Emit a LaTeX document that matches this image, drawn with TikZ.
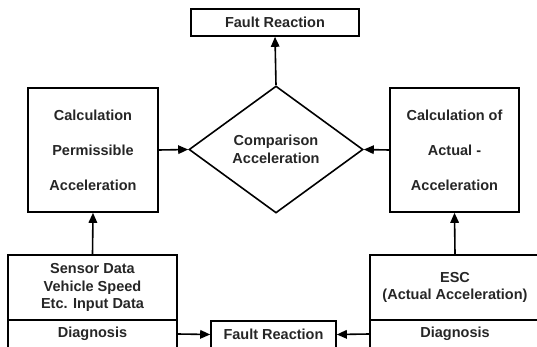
\documentclass[tikz,border=0pt]{standalone}
\usepackage{fontspec}
\setmainfont{Liberation Sans}
\usetikzlibrary{shapes.geometric,arrows.meta}
\begin{document}
\begin{tikzpicture}[x=1pt,y=-1pt,
  box/.style={draw, line width=1.6pt, inner sep=0pt, align=center,
    font=\fontsize{14.5}{17.5}\selectfont\bfseries, text=black!85},
  tall/.style={box, font=\fontsize{14.5}{35}\selectfont\bfseries},
  arr/.style={line width=1.6pt, -{Triangle[length=10pt,width=8.5pt]}}]
\useasboundingbox (0,0) rectangle (537,347);
\clip (0,0) rectangle (537,347);
\node[box, minimum width=168pt, minimum height=27pt] (fr1) at (275,22.5) {Fault Reaction};
\node[tall, minimum width=130pt, minimum height=124pt] (calcL) at (93,150) {Calculation\\Permissible\\Acceleration};
\node[tall, minimum width=129pt, minimum height=124pt] (calcR) at (454.5,150) {Calculation of\\Actual -\\Acceleration};
\node[box, shape=diamond, aspect=1.37, minimum width=174pt, minimum height=127pt] (cmp) at (276,149.5) {Comparison\\Acceleration};
\node[box, minimum width=169pt, minimum height=65pt] (sensor) at (92.5,287.5) {Sensor Data\\Vehicle Speed\\Etc. Input Data};
\node[box, minimum width=169pt, minimum height=28pt] (diagL) at (92.5,334) {Diagnosis};
\node[box, minimum width=170pt, minimum height=65pt] (esc) at (455,287.5) {ESC\\(Actual Acceleration)};
\node[box, minimum width=170pt, minimum height=28pt] (diagR) at (455,334) {Diagnosis};
\node[box, minimum width=125pt, minimum height=27pt] (fr2) at (273.5,334.5) {Fault Reaction};
\draw[arr] (cmp.north) -- (fr1.south);
\draw[arr] (calcL.east) -- (cmp.west);
\draw[arr] (calcR.west) -- (cmp.east);
\draw[arr] (sensor.north) -- (calcL.south);
\draw[arr] (esc.north) -- (calcR.south);
\draw[arr] (diagL.east) -- (fr2.west);
\draw[arr] (diagR.west) -- (fr2.east);
\end{tikzpicture}
\end{document}
